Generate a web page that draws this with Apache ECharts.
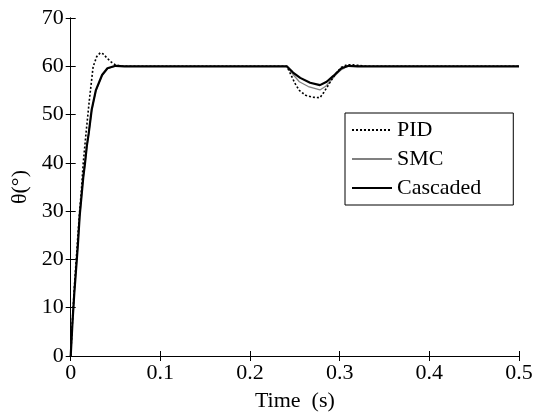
<!DOCTYPE html>
<html>
<head>
<meta charset="utf-8">
<script src="https://cdn.jsdelivr.net/npm/echarts@6/dist/echarts.min.js"></script>
<style>html,body{margin:0;padding:0;background:#fff;}#c{width:533px;height:412px;}</style>
</head>
<body>
<div id="c"></div>
<script>
var seriesNames = ['PID', 'SMC', 'Cascaded'];
var xTicks = [0, 0.1, 0.2, 0.3, 0.4, 0.5];
var yTicks = [0, 10, 20, 30, 40, 50, 60, 70];

var pidT = [0, 0.002, 0.004, 0.006, 0.008, 0.010, 0.012, 0.014, 0.017, 0.0208, 0.025, 0.029, 0.033, 0.036, 0.040, 0.045, 0.050, 0.057, 0.065, 0.1, 0.2, 0.241,
  0.245, 0.250, 0.255, 0.262, 0.270, 0.278, 0.282, 0.287, 0.292, 0.297, 0.302, 0.308, 0.315, 0.325, 0.33, 0.4, 0.5];
var pidV = [0, 7.5, 14, 19.5, 25, 30, 34.5, 40, 46, 53, 59.9, 62, 62.8, 62.6, 61.8, 60.9, 60.3, 60.0, 60, 60, 60, 60,
  58.5, 56.5, 55.0, 54.0, 53.6, 53.5, 54.5, 56, 57.5, 58.8, 59.8, 60.3, 60.3, 60.1, 60, 60, 60];

var smcT = [0, 0.002, 0.004, 0.006, 0.008, 0.010, 0.012, 0.014, 0.016, 0.018, 0.020, 0.0234, 0.028, 0.035, 0.041, 0.05, 0.06, 0.1, 0.2, 0.241,
  0.248, 0.255, 0.265, 0.278, 0.284, 0.290, 0.296, 0.302, 0.308, 0.315, 0.33, 0.4, 0.5];
var smcV = [0, 6.8, 12.8, 17.8, 22.8, 28.6, 32.8, 36.8, 39.8, 43.2, 45.8, 50.8, 54.9, 58.1, 59.5, 60.0, 60, 60, 60, 60,
  58.3, 56.8, 55.8, 55.1, 55.8, 57, 58.3, 59.3, 59.9, 60.1, 60, 60, 60];

var casT = [0, 0.002, 0.004, 0.006, 0.008, 0.010, 0.012, 0.014, 0.016, 0.018, 0.020, 0.0234, 0.028, 0.035, 0.041, 0.05, 0.06, 0.1, 0.2, 0.241,
  0.248, 0.256, 0.267, 0.278, 0.2855, 0.293, 0.302, 0.31, 0.32, 0.4, 0.5];
var casV = [0, 7, 13, 18, 23, 29, 33, 37, 40, 43.5, 46, 51, 55, 58.2, 59.6, 60.1, 60, 60, 60, 60,
  58.7, 57.6, 56.6, 56.1, 56.8, 58.0, 59.6, 60.1, 60, 60, 60];

function pairs(t, v) { return t.map(function (x, i) { return [x, v[i]]; }); }

var font = 'Liberation Serif';
var fs = 22;
var chart = echarts.init(document.getElementById('c'), null, { renderer: 'canvas' });
var axisLine = { show: true, lineStyle: { color: '#000', width: 1 } };
var tick = { show: true, inside: true, length: 5, lineStyle: { color: '#000' } };

chart.setOption({
  animation: false,
  backgroundColor: '#fff',
  grid: { left: 70.7, right: 14, top: 18, bottom: 56, containLabel: false, outerBoundsMode: 'none' },
  xAxis: [{
    type: 'value', min: 0, max: 0.5, interval: 0.1,
    axisLine: axisLine, axisTick: tick, splitLine: { show: false },
    axisLabel: { fontFamily: font, fontSize: fs, color: '#000', margin: 6,
      formatter: function (v) { return String(+v.toFixed(1)); } },
    name: 'Time  (s)', nameLocation: 'middle', nameGap: 34,
    nameTextStyle: { fontFamily: font, fontSize: fs, color: '#000' }
  }, {
    type: 'value', min: 0, max: 0.5, interval: 0.1, position: 'top',
    axisLine: axisLine, axisTick: tick, axisLabel: { show: false }, splitLine: { show: false }
  }],
  yAxis: [{
    type: 'value', min: 0, max: 70, interval: 10,
    axisLine: axisLine, axisTick: tick, splitLine: { show: false },
    axisLabel: { fontFamily: font, fontSize: fs, color: '#000', margin: 7 },
    name: 'θ(°)', nameLocation: 'middle', nameGap: 36, nameRotate: 90,
    nameTextStyle: { fontFamily: font, fontSize: fs, color: '#000' }
  }, {
    type: 'value', min: 0, max: 70, interval: 10, position: 'right',
    axisLine: axisLine, axisTick: tick, axisLabel: { show: false }, splitLine: { show: false }
  }],
  legend: {
    orient: 'vertical', left: 345, top: 113,
    backgroundColor: '#fff', borderColor: '#000', borderWidth: 1, borderRadius: 0,
    padding: [6, 32, 6, 6], itemGap: 7, itemWidth: 40, itemHeight: 14,
    itemStyle: { opacity: 0 },
    textStyle: { fontFamily: font, fontSize: fs, color: '#000' },
    data: seriesNames
  },
  series: [
    { name: seriesNames[0], type: 'line', symbol: 'none', data: pairs(pidT, pidV), z: 3,
      lineStyle: { color: '#000', width: 1.6, type: [2, 2] }, itemStyle: { color: '#000' } },
    { name: seriesNames[1], type: 'line', symbol: 'none', data: pairs(smcT, smcV), z: 2,
      lineStyle: { color: '#808080', width: 1.2 }, itemStyle: { color: '#808080' } },
    { name: seriesNames[2], type: 'line', symbol: 'none', data: pairs(casT, casV), z: 4,
      lineStyle: { color: '#000', width: 2.2 }, itemStyle: { color: '#000' } }
  ]
});
</script>
</body>
</html>
